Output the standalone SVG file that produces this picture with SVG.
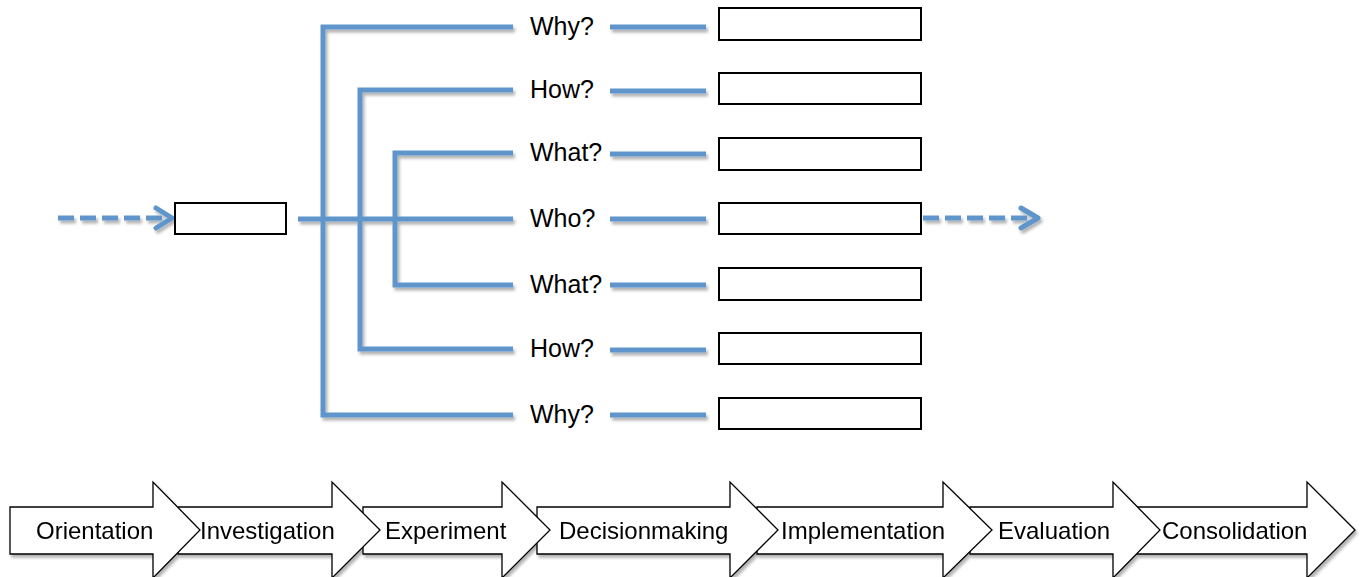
<svg xmlns="http://www.w3.org/2000/svg" width="1361" height="577" viewBox="0 0 1361 577">
<style>
.ln{fill:none;stroke:#5e95cb;stroke-width:5;stroke-linecap:butt;stroke-linejoin:miter}
.dash{fill:none;stroke:#5e95cb;stroke-width:5;stroke-dasharray:16 6}
.chev{fill:none;stroke:#5e95cb;stroke-width:5;stroke-linecap:round;stroke-linejoin:round}
.box{fill:#ffffff;stroke:#000000;stroke-width:2}
.blk{fill:#ffffff;stroke:#000000;stroke-width:1.3;stroke-linejoin:miter}
.lbl{font-family:"Liberation Sans",Arial,sans-serif;font-size:24px;fill:#000000}
.q{font-family:"Liberation Sans",Arial,sans-serif;font-size:25px;fill:#000000}
</style>
<defs>
<filter id="sh" x="-10%" y="-10%" width="130%" height="140%">
<feDropShadow dx="2" dy="3" stdDeviation="1.5" flood-color="#000" flood-opacity="0.3"/>
</filter>
</defs>
<g id="connectors" filter="url(#sh)">
<polyline class="ln" points="513,27 323,27 323,415 513,415"/>
<polyline class="ln" points="513,90 360,90 360,349 513,349"/>
<polyline class="ln" points="513,153 395,153 395,285 513,285"/>
<line class="ln" x1="298" y1="219" x2="513" y2="219"/>
<line class="ln" x1="610" y1="27" x2="706" y2="27"/>
<line class="ln" x1="610" y1="91" x2="706" y2="91"/>
<line class="ln" x1="610" y1="154" x2="706" y2="154"/>
<line class="ln" x1="610" y1="219" x2="706" y2="219"/>
<line class="ln" x1="610" y1="285" x2="706" y2="285"/>
<line class="ln" x1="610" y1="350" x2="706" y2="350"/>
<line class="ln" x1="610" y1="415" x2="706" y2="415"/>
<line class="dash" x1="58" y1="218" x2="166" y2="218"/>
<polyline class="chev" points="156,208 172,218 156,228"/>
<line class="dash" x1="923" y1="218" x2="1034" y2="218"/>
<polyline class="chev" points="1021,208 1038,218 1021,228"/>
</g>
<g id="start-box"><rect class="box" x="175" y="203" width="111" height="31"/></g>
<g id="labels">
<text class="q" x="530" y="35">Why?</text>
<text class="q" x="530" y="98">How?</text>
<text class="q" x="530" y="161">What?</text>
<text class="q" x="530" y="227">Who?</text>
<text class="q" x="530" y="293">What?</text>
<text class="q" x="530" y="357">How?</text>
<text class="q" x="530" y="423">Why?</text>
</g>
<g id="box1"><rect class="box" x="719" y="8" width="202" height="32"/></g>
<g id="box2"><rect class="box" x="719" y="73" width="202" height="31"/></g>
<g id="box3"><rect class="box" x="719" y="138" width="202" height="32"/></g>
<g id="box4"><rect class="box" x="719" y="203" width="202" height="31"/></g>
<g id="box5"><rect class="box" x="719" y="268" width="202" height="32"/></g>
<g id="box6"><rect class="box" x="719" y="333" width="202" height="31"/></g>
<g id="box7"><rect class="box" x="719" y="398" width="202" height="31"/></g>
<g id="phases" filter="url(#sh)">
<g id="phase7"><polygon class="blk" points="1135,507 1307,507 1307,482 1355,530 1307,578 1307,554 1135,554"/><text class="lbl" x="1162" y="539">Consolidation</text></g>
<g id="phase6"><polygon class="blk" points="970,507 1113,507 1113,482 1160,530 1113,578 1113,554 970,554"/><text class="lbl" x="998" y="539">Evaluation</text></g>
<g id="phase5"><polygon class="blk" points="757,507 943,507 943,482 992,530 943,578 943,554 757,554"/><text class="lbl" x="781" y="539">Implementation</text></g>
<g id="phase4"><polygon class="blk" points="537,507 730,507 730,482 778,530 730,578 730,554 537,554"/><text class="lbl" x="559" y="539">Decisionmaking</text></g>
<g id="phase3"><polygon class="blk" points="363,507 502,507 502,482 550,530 502,578 502,554 363,554"/><text class="lbl" x="385" y="539">Experiment</text></g>
<g id="phase2"><polygon class="blk" points="178,507 332,507 332,482 380,530 332,578 332,554 178,554"/><text class="lbl" x="200" y="539">Investigation</text></g>
<g id="phase1"><polygon class="blk" points="10,507 153,507 153,482 200,530 153,578 153,554 10,554"/><text class="lbl" x="36" y="539">Orientation</text></g>
</g>
</svg>
